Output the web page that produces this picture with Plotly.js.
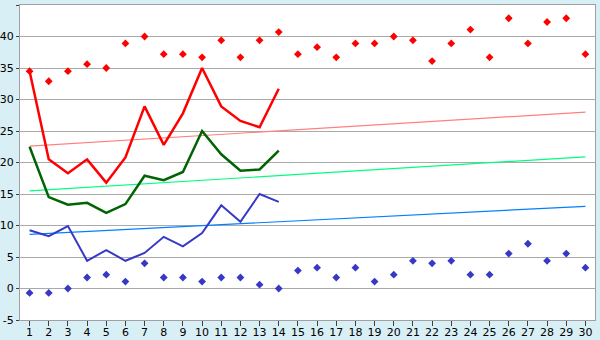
<!DOCTYPE html>
<html>
<head>
<meta charset="utf-8">
<script src="https://cdn.plot.ly/plotly-3.0.1.min.js"></script>
<style>html,body{margin:0;padding:0;background:#D9EFF6;}#chart{width:600px;height:340px;}</style>
</head>
<body>
<div id="chart"></div>
<script>
const categories = Array.from({length: 30}, (_, i) => i + 1);
const lineCats = categories.slice(0, 14);

const redLine = [34.5, 20.5, 18.3, 20.5, 16.8, 20.8, 28.9, 22.8, 27.8, 35.0, 28.9, 26.6, 25.6, 31.7];
const greenLine = [22.5, 14.5, 13.3, 13.6, 12.0, 13.4, 17.9, 17.2, 18.5, 25.0, 21.3, 18.7, 18.9, 21.9];
const blueLine = [9.25, 8.3, 9.9, 4.4, 6.1, 4.4, 5.65, 8.2, 6.7, 8.8, 13.2, 10.6, 15.0, 13.75];

const redPoints = [34.5, 32.9, 34.5, 35.6, 35.0, 38.9, 40.0, 37.2, 37.2, 36.7,
                   39.4, 36.7, 39.4, 40.7, 37.2, 38.3, 36.7, 38.9, 38.9, 40.0,
                   39.4, 36.1, 38.9, 41.1, 36.7, 42.9, 38.9, 42.3, 42.9, 37.2];
const bluePoints = [-0.7, -0.7, 0.0, 1.75, 2.2, 1.1, 4.0, 1.75, 1.75, 1.1,
                    1.75, 1.75, 0.6, 0.0, 2.85, 3.3, 1.75, 3.3, 1.1, 2.2,
                    4.4, 4.0, 4.4, 2.2, 2.2, 5.55, 7.1, 4.4, 5.55, 3.3];

const trendX = [1, 30];
const redTrend = [22.6, 28.0];
const greenTrend = [15.5, 20.9];
const blueTrend = [8.6, 13.05];

const yTicks = [-5, 0, 5, 10, 15, 20, 25, 30, 35, 40, 45];

const traces = [
  {x: trendX, y: redTrend, mode: 'lines', line: {color: '#FF8080', width: 1.2}, hoverinfo: 'skip'},
  {x: trendX, y: greenTrend, mode: 'lines', line: {color: '#00FF80', width: 1.2}, hoverinfo: 'skip'},
  {x: trendX, y: blueTrend, mode: 'lines', line: {color: '#0080FF', width: 1.2}, hoverinfo: 'skip'},
  {x: categories, y: redPoints, mode: 'markers', marker: {symbol: 'diamond', size: 6, color: '#FF0000'}},
  {x: categories, y: bluePoints, mode: 'markers', marker: {symbol: 'diamond', size: 6, color: '#3838C8'}},
  {x: lineCats, y: redLine, mode: 'lines', line: {color: '#FF0000', width: 2.5}},
  {x: lineCats, y: greenLine, mode: 'lines', line: {color: '#006400', width: 2.5}},
  {x: lineCats, y: blueLine, mode: 'lines', line: {color: '#3838C8', width: 2}}
];

const layout = {
  width: 600, height: 340,
  margin: {l: 20, r: 5, t: 5, b: 20, pad: 0},
  paper_bgcolor: '#D9EFF6',
  plot_bgcolor: '#FFFFFF',
  showlegend: false,
  font: {family: 'DejaVu Sans, Verdana, sans-serif', size: 11, color: '#000000'},
  xaxis: {
    range: [0.5, 30.5], tickvals: categories, ticktext: categories.map(String),
    showgrid: false, zeroline: false, showline: true, linecolor: '#A0A0A0', linewidth: 1, mirror: true,
    ticks: 'outside', ticklen: 5, tickcolor: '#404040', tickfont: {size: 11},
    ticklabelstandoff: -3
  },
  yaxis: {
    range: [-5, 45], tickvals: yTicks, ticktext: yTicks.map(String),
    showgrid: true, gridcolor: '#AAAAAA', gridwidth: 1, zeroline: false,
    showline: true, linecolor: '#A0A0A0', linewidth: 1, mirror: true,
    ticks: 'outside', ticklen: 3, tickcolor: '#404040', tickfont: {size: 11}
  }
};

Plotly.newPlot('chart', traces, layout, {staticPlot: true, displayModeBar: false});
</script>
</body>
</html>
